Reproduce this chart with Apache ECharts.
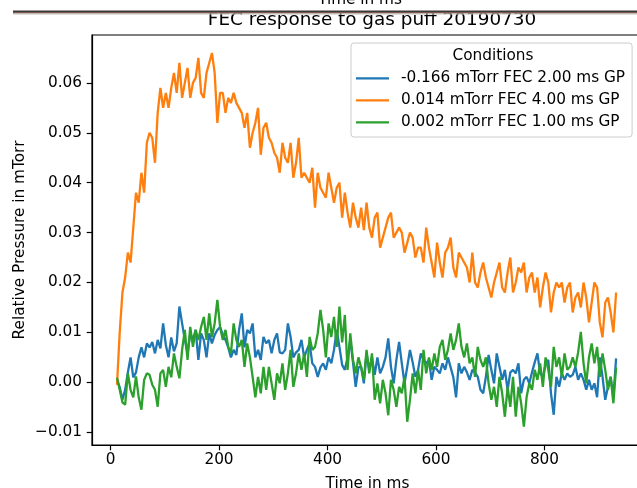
<!DOCTYPE html>
<html>
<head>
<meta charset="utf-8">
<script src="https://cdn.jsdelivr.net/npm/echarts@6/dist/echarts.min.js"></script>
<style>
  html, body { margin: 0; padding: 0; background: #ffffff; }
  #chart { width: 637px; height: 488px; }
</style>
</head>
<body>
<div id="chart"></div>
<script>
// Sample times (ms after trigger)
const timeMs = [
  12,17,22,27,32,37,42,47,52,57,
  62,67,72,77,82,87,92,97,102,107,
  112,117,122,127,132,137,142,147,152,157,
  162,167,172,177,182,187,192,197,202,207,
  212,217,222,227,232,237,242,247,252,257,
  262,267,272,277,282,287,292,297,302,307,
  312,317,322,327,332,337,342,347,352,357,
  362,367,372,377,382,387,392,397,402,407,
  412,417,422,427,432,437,442,447,452,457,
  462,467,472,477,482,487,492,497,502,507,
  512,517,522,527,532,537,542,547,552,557,
  562,567,572,577,582,587,592,597,602,607,
  612,617,622,627,632,637,642,647,652,657,
  662,667,672,677,682,687,692,697,702,707,
  712,717,722,727,732,737,742,747,752,757,
  762,767,772,777,782,787,792,797,802,807,
  812,817,822,827,832,837,842,847,852,857,
  862,867,872,877,882,887,892,897,902,907,
  912,917,922,927,932
];

// Relative pressure (mTorr), shot with 2.00 ms gas puff
const puff2ms = [
  0.0005,-0.0010,-0.0035,-0.0015,0.0020,0.0050,0.0010,0.0020,0.0050,0.0070,
  0.0050,0.0078,0.0070,0.0081,0.0058,0.0085,0.0068,0.0118,0.0075,0.0050,
  0.0090,0.0062,0.0078,0.0152,0.0118,0.0085,0.0058,0.0098,0.0085,0.0105,
  0.0045,0.0098,0.0085,0.0050,0.0098,0.0078,0.0095,0.0105,0.0111,0.0095,
  0.0085,0.0070,0.0050,0.0065,0.0055,0.0105,0.0138,0.0070,0.0105,0.0098,
  0.0118,0.0050,0.0065,0.0045,0.0091,0.0078,0.0085,0.0058,0.0085,0.0098,
  0.0060,0.0058,0.0065,0.0118,0.0091,0.0050,0.0060,0.0065,0.0085,0.0050,
  0.0065,0.0078,0.0038,0.0031,0.0011,0.0030,0.0038,0.0025,0.0050,0.0038,
  0.0065,0.0105,0.0071,0.0035,0.0025,0.0050,0.0085,0.0040,-0.0009,0.0030,
  0.0031,-0.0002,0.0058,0.0025,0.0050,0.0015,0.0050,0.0018,0.0031,0.0050,
  0.0088,0.0031,-0.0002,0.0045,0.0081,0.0038,-0.0002,0.0031,0.0065,0.0040,
  0.0011,0.0025,0.0058,0.0045,0.0038,0.0045,0.0005,0.0031,0.0025,0.0018,
  0.0038,0.0025,0.0050,0.0030,0.0010,-0.0030,0.0038,0.0018,0.0031,0.0020,
  0.0005,0.0025,0.0020,0.0011,-0.0015,-0.0022,0.0011,0.0055,0.0025,-0.0002,
  0.0058,0.0031,0.0005,0.0025,-0.0015,0.0020,0.0025,0.0018,0.0038,-0.0022,
  0.0005,0.0011,-0.0002,0.0020,0.0040,0.0058,0.0018,0.0011,0.0035,0.0045,
  -0.0022,-0.0065,0.0011,-0.0009,0.0018,0.0005,0.0018,0.0011,0.0015,0.0031,
  0.0005,0.0018,0.0005,-0.0015,0.0005,-0.0015,-0.0002,-0.0030,0.0050,0.0011,
  -0.0035,-0.0009,0.0011,-0.0030,0.0048
];

// Relative pressure (mTorr), shot with 4.00 ms gas puff
const puff4ms = [
  -0.0005,0.010,0.018,0.021,0.026,0.024,0.031,0.038,0.036,0.042,
  0.038,0.048,0.050,0.049,0.044,0.054,0.059,0.055,0.058,0.055,
  0.059,0.062,0.058,0.064,0.057,0.060,0.063,0.057,0.060,0.061,
  0.065,0.058,0.057,0.062,0.064,0.066,0.062,0.052,0.058,0.058,
  0.054,0.057,0.056,0.058,0.056,0.055,0.054,0.051,0.054,0.047,
  0.050,0.052,0.055,0.0456,0.051,0.052,0.049,0.048,0.046,0.045,
  0.042,0.048,0.045,0.044,0.048,0.041,0.044,0.049,0.041,0.042,
  0.041,0.040,0.043,0.035,0.042,0.039,0.038,0.037,0.042,0.039,
  0.036,0.039,0.040,0.033,0.038,0.034,0.031,0.036,0.033,0.031,
  0.035,0.0305,0.036,0.031,0.029,0.033,0.034,0.027,0.029,0.031,
  0.033,0.034,0.029,0.030,0.031,0.030,0.026,0.028,0.030,0.029,
  0.025,0.027,0.027,0.024,0.031,0.027,0.024,0.021,0.028,0.024,
  0.021,0.026,0.027,0.029,0.023,0.021,0.026,0.025,0.024,0.023,
  0.020,0.026,0.020,0.019,0.022,0.024,0.021,0.019,0.017,0.020,
  0.022,0.024,0.019,0.018,0.022,0.025,0.018,0.020,0.023,0.022,
  0.024,0.018,0.021,0.022,0.018,0.021,0.015,0.019,0.022,0.020,
  0.014,0.018,0.020,0.019,0.020,0.016,0.019,0.020,0.014,0.017,
  0.018,0.015,0.020,0.017,0.012,0.016,0.020,0.019,0.012,0.009,
  0.016,0.017,0.014,0.010,0.018
];

// Relative pressure (mTorr), shot with 1.00 ms gas puff
const puff1ms = [
  0.0009,-0.0015,-0.0040,-0.0045,0.0018,-0.0015,-0.0030,0.0012,-0.0030,-0.0055,
  0.0005,0.0018,0.0015,-0.0005,-0.0015,-0.0049,0.0018,0.0025,-0.0009,0.0031,
  0.0010,0.0058,0.0031,0.0008,0.0065,0.0105,0.0045,0.0111,0.0071,0.0105,
  0.0085,0.0111,0.0131,0.0085,0.0138,0.0091,0.0118,0.0165,0.0111,0.0085,
  0.0105,0.0071,0.0058,0.0118,0.0085,0.0071,0.0085,0.0031,0.0078,0.0050,
  0.0011,-0.0030,0.0011,-0.0022,0.0031,-0.0015,0.0031,-0.0002,-0.0035,0.0018,
  -0.0002,0.0038,-0.0015,0.0018,0.0065,-0.0009,0.0018,0.0058,0.0025,0.0058,
  0.0011,0.0091,0.0065,0.0071,0.0098,0.0145,0.0105,0.0050,0.0118,0.0091,
  0.0131,0.0071,0.0152,0.0080,0.0135,0.0025,0.0098,0.0045,0.0018,0.0050,
  0.0030,0.0005,0.0065,0.0018,0.0058,-0.0035,-0.0002,-0.0042,0.0005,-0.0022,
  -0.0066,0.0005,-0.0015,-0.0049,-0.0009,-0.0022,0.0011,-0.0079,-0.0035,0.0018,
  -0.0022,0.0025,-0.0015,0.0065,0.0018,0.0050,0.0025,0.0058,0.0031,0.0071,
  0.0085,0.0045,0.0065,0.0098,0.0065,0.0085,0.0118,0.0071,0.0050,0.0078,
  0.0038,0.0050,0.0011,0.0071,0.0045,0.0031,0.0050,-0.0002,-0.0035,-0.0009,
  -0.0049,0.0011,-0.0022,-0.0069,-0.0009,-0.0049,0.0011,-0.0069,-0.0009,-0.0042,
  -0.0089,-0.0030,-0.0002,-0.0015,0.0025,0.0005,0.0038,-0.0009,0.0050,0.0025,
  -0.0009,0.0071,0.0031,0.0050,0.0011,0.0058,0.0025,0.0031,0.0050,0.0031,
  0.0060,0.0101,0.0038,-0.0002,0.0050,0.0078,0.0038,0.0071,0.0011,0.0058,
  0.0025,-0.0015,0.0011,-0.0042,0.0030
];

const seriesNames = [
  '-0.166 mTorr FEC 2.00 ms GP',
  '0.014 mTorr FEC 4.00 ms GP',
  '0.002 mTorr FEC 1.00 ms GP'
];
const seriesColors = ['#1f77b4', '#ff7f0e', '#2ca02c'];
const xTicks = [0, 200, 400, 600, 800];
const yTicks = [-0.01, 0, 0.01, 0.02, 0.03, 0.04, 0.05, 0.06];

const FONT = 'DejaVu Sans';
const pairs = (ys) => timeMs.map((t, i) => [t, ys[i]]);

const chart = echarts.init(document.getElementById('chart'), null, { renderer: 'canvas' });

const axisText = { fontSize: 15.3, color: '#000', fontFamily: FONT };

chart.setOption({
  animation: false,
  backgroundColor: '#ffffff',
  title: {
    text: 'FEC response to gas puff 20190730',
    left: 367,
    top: 6,
    textAlign: 'center',
    textStyle: { fontSize: 18.4, fontWeight: 'normal', color: '#000', fontFamily: FONT }
  },
  grid: {
    left: 92, top: 35, width: 551, height: 410,
    show: true, borderColor: '#000', borderWidth: 1.2,
    backgroundColor: 'transparent',
    containLabel: false,
    outerBoundsMode: 'none'
  },
  xAxis: {
    type: 'value',
    min: -34.1, max: 981.6,
    name: 'Time in ms',
    nameLocation: 'middle',
    nameGap: 32,
    nameMoveOverlap: false,
    nameTextStyle: axisText,
    axisLine: { show: true, onZero: false, lineStyle: { color: '#000', width: 1.2 } },
    axisTick: { show: true, length: 5.3, customValues: xTicks, lineStyle: { color: '#000', width: 1.2 } },
    axisLabel: { customValues: xTicks, margin: 8, ...axisText },
    splitLine: { show: false }
  },
  yAxis: {
    type: 'value',
    min: -0.01256, max: 0.0696,
    name: 'Relative Pressure in mTorr',
    nameLocation: 'middle',
    nameGap: 64,
    nameMoveOverlap: false,
    nameRotate: 90,
    nameTextStyle: axisText,
    axisLine: { show: true, onZero: false, lineStyle: { color: '#000', width: 1.2 } },
    axisTick: { show: true, length: 5.3, customValues: yTicks, lineStyle: { color: '#000', width: 1.2 } },
    axisLabel: {
      customValues: yTicks, margin: 10, ...axisText,
      formatter: (v) => v.toFixed(2).replace('-', '\u2212')
    },
    splitLine: { show: false }
  },
  legend: {
    orient: 'vertical',
    left: 351, top: 43,
    padding: [24.3, 7, 3.7, 5],
    itemWidth: 33, itemHeight: 2.3, itemGap: 0,
    icon: 'rect',
    selectedMode: false,
    backgroundColor: 'rgba(255,255,255,0.8)',
    borderColor: '#cccccc', borderWidth: 1, borderRadius: 3,
    textStyle: { fontSize: 15.3, lineHeight: 22, color: '#000', fontFamily: FONT, padding: [0, 0, 0, 7] },
    data: seriesNames
  },
  graphic: [
    {
      type: 'text', z: 100,
      style: { text: 'Conditions', x: 493, y: 56, align: 'center', verticalAlign: 'middle',
               fontSize: 15.3, fontFamily: FONT, fill: '#000' }
    },
    // edge of the neighbouring window above the figure
    {
      type: 'text', z: 100,
      style: { text: 'Time in ms', x: 360, y: 8, align: 'center', verticalAlign: 'bottom',
               fontSize: 15.3, fontFamily: FONT, fill: '#000' }
    },
    { type: 'rect', z: 100, shape: { x: 13, y: 10.5, width: 624, height: 1.5 }, style: { fill: '#3a3a3a' } },
    { type: 'rect', z: 100, shape: { x: 13, y: 12, width: 624, height: 1.5 }, style: { fill: '#7b5a4e' } },
    { type: 'rect', z: 100, shape: { x: 13, y: 13.5, width: 624, height: 1 }, style: { fill: '#c9c2c0' } }
  ],
  series: seriesNames.map((name, k) => ({
    name,
    type: 'line',
    data: pairs([puff2ms, puff4ms, puff1ms][k]),
    showSymbol: false,
    symbol: 'none',
    color: seriesColors[k],
    lineStyle: { width: 2.3, color: seriesColors[k] },
    emphasis: { disabled: true },
    z: 2 + k
  }))
});
</script>
</body>
</html>
